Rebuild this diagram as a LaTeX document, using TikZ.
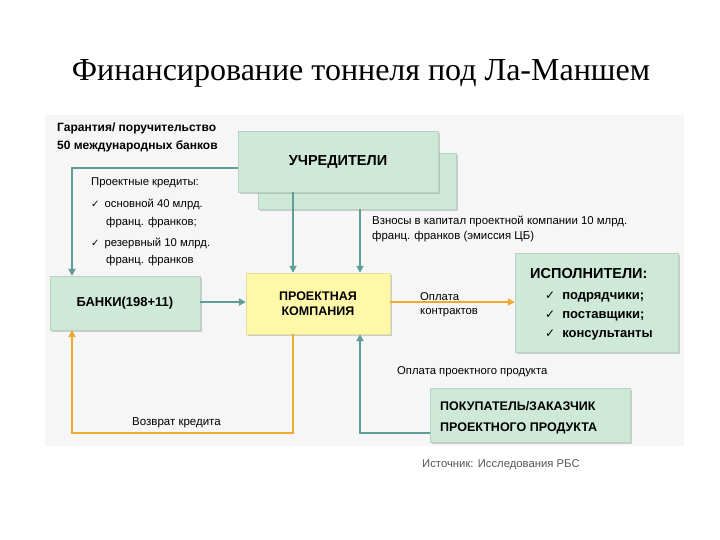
\documentclass[tikz,border=0pt]{standalone}
\usepackage{fontspec}
\setmainfont{Liberation Sans}
\newfontfamily\titlefont{Liberation Serif}
\newfontfamily\chk{DejaVu Sans}
\usetikzlibrary{arrows.meta,shadows}
\definecolor{boxgreen}{HTML}{CFE9D9}
\definecolor{boxyellow}{HTML}{FFF8A8}
\definecolor{tealline}{HTML}{5E9E95}
\definecolor{orangeline}{HTML}{F0A830}
\definecolor{panel}{HTML}{F7F6F6}
\definecolor{srcgray}{HTML}{555555}
\tikzset{
  greenbox/.style={fill=boxgreen, draw=boxgreen!90!black, line width=0.3pt,
    drop shadow={shadow xshift=2pt, shadow yshift=-2pt, opacity=0.35, fill=gray},
    inner sep=0pt, font=\fontsize{13}{15}\selectfont\bfseries},
  yellowbox/.style={fill=boxyellow, draw=boxyellow!90!black, line width=0.3pt,
    drop shadow={shadow xshift=2pt, shadow yshift=-2pt, opacity=0.35, fill=gray},
    inner sep=0pt, align=center, font=\fontsize{12.5}{15}\selectfont\bfseries},
  tealarrow/.style={draw=tealline, line width=2.4pt, -{Triangle[width=7pt,length=7pt]}},
  orangearrow/.style={draw=orangeline, line width=2.4pt, -{Triangle[width=7pt,length=7pt]}},
  lbl/.style={inner sep=0pt, anchor=north west, align=left, font=\fontsize{11.3}{16}\selectfont},
  boldlbl/.style={inner sep=0pt, anchor=north west, align=left, font=\fontsize{12}{18}\selectfont\bfseries},
}
\begin{document}
\begin{tikzpicture}[x=1pt,y=-1pt]
\useasboundingbox (0,0) rectangle (720,540);
\fill[white] (0,0) rectangle (720,540);
\fill[panel] (45,115) rectangle (684,446);

\node[font=\titlefont\fontsize{32}{36}\selectfont, inner sep=0pt] (title) at (361,73) {Финансирование тоннеля под Ла-Маншем};

% boxes
\node[greenbox, minimum width=198pt, minimum height=56pt] (back) at (357,181) {};
\node[greenbox, minimum width=200pt, minimum height=61pt, font=\fontsize{14.5}{15}\selectfont\bfseries] (found) at (338,161.5) {УЧРЕДИТЕЛИ};
\node[greenbox, minimum width=150pt, minimum height=54pt] (bank) at (125,303) {БАНКИ(198+11)};
\node[yellowbox, minimum width=144pt, minimum height=61pt] (proj) at (318,303.5) {ПРОЕКТНАЯ\\КОМПАНИЯ};
\node[greenbox, minimum width=163pt, minimum height=99pt] (exec) at (596.5,302.5) {};
\node[greenbox, minimum width=200pt, minimum height=54pt] (buyer) at (530,415) {};

\node[boldlbl, font=\fontsize{14.5}{19}\selectfont\bfseries] (execlbl) at (530,268)
 {ИСПОЛНИТЕЛИ:\\[2pt]
  \hspace*{15pt}{\chk\fontsize{12}{19}\selectfont✓}\hspace{7pt}{\fontsize{13}{19}\selectfont подрядчики;}\\
  \hspace*{15pt}{\chk\fontsize{12}{19}\selectfont✓}\hspace{7pt}{\fontsize{13}{19}\selectfont поставщики;}\\
  \hspace*{15pt}{\chk\fontsize{12}{19}\selectfont✓}\hspace{7pt}{\fontsize{13}{19}\selectfont консультанты}};
\node[boldlbl, font=\fontsize{12.5}{21}\selectfont\bfseries] (buyerlbl) at (440,401)
 {ПОКУПАТЕЛЬ/ЗАКАЗЧИК\\ПРОЕКТНОГО ПРОДУКТА};

% helper coordinates
\coordinate (x72) at (72,0);
\coordinate (x293) at (293,0);
\coordinate (x360) at (360,0);
\coordinate (y433) at (0,433);

% connectors
\draw[tealarrow] ([yshift=-6.5pt]found.west) -| (bank.north -| x72);
\draw[tealarrow] (found.south -| x293) -- (proj.north -| x293);
\draw[tealarrow] (back.south -| x360) -- (proj.north -| x360);
\draw[tealarrow] ([yshift=1pt]bank.east) -- ([yshift=1pt]bank.east -| proj.west);
\draw[orangearrow] ([yshift=1.5pt]proj.east) -- ([yshift=1.5pt]proj.east -| exec.west);
\draw[orangearrow] (proj.south -| x293) -- (x293 |- y433) -| (bank.south -| x72);
\draw[tealarrow] (buyer.west |- y433) -| (proj.south -| x360);

% labels
\node[boldlbl] (guar) at (57,123) {Гарантия/ поручительство\\50 международных банков};
\node[lbl] (credits) at (91,178) {Проектные кредиты:};
\node[lbl, font=\fontsize{11.3}{18}\selectfont] (cred1) at (91,199)
 {{\chk\fontsize{10}{18}\selectfont✓}\hspace{5pt}основной 40 млрд.\\\hspace*{15pt}франц. франков;};
\node[lbl, font=\fontsize{11.3}{17}\selectfont] (cred2) at (91,238)
 {{\chk\fontsize{10}{17}\selectfont✓}\hspace{5pt}резервный 10 млрд.\\\hspace*{15pt}франц. франков};
\node[lbl, font=\fontsize{11.4}{15}\selectfont] (contrib) at (372,216)
 {Взносы в капитал проектной компании 10 млрд.\\франц. франков (эмиссия ЦБ)};
\node[lbl, font=\fontsize{11.3}{14}\selectfont] (paycontr) at (420,292) {Оплата\\контрактов};
\node[lbl] (payprod) at (397,366) {Оплата проектного продукта};
\node[lbl, font=\fontsize{11.5}{16}\selectfont] (repay) at (132,417) {Возврат кредита};
\node[lbl, text=srcgray] (source) at (422,459) {Источник: Исследования РБС};
\end{tikzpicture}
\end{document}
